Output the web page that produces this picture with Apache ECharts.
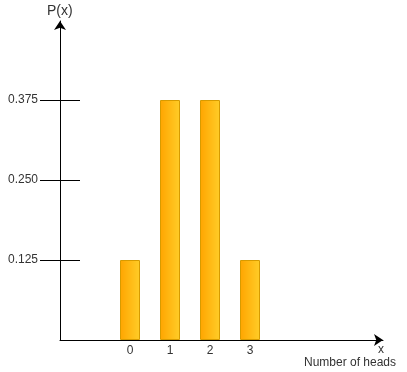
<!DOCTYPE html>
<html><head><meta charset="utf-8">
<script src="https://cdn.jsdelivr.net/npm/echarts@6/dist/echarts.min.js"></script>
<style>html,body{margin:0;padding:0;background:#fff}#c{width:407px;height:372px}</style>
</head><body><div id="c"></div>
<script>
const categories = [0, 1, 2, 3];
const probabilities = [0.125, 0.375, 0.375, 0.125];
const yTickValues = [0.125, 0.25, 0.375];
const xLabel = 'x';
const xTitle = 'Number of heads';
const yTitle = 'P(x)';

const FONT = "'Liberation Sans', Arial, sans-serif";
const chart = echarts.init(document.getElementById('c'), null, {renderer: 'canvas'});
const yMin = 0, yMax = (340 - 21) / 640;
chart.setOption({
  animation: false,
  grid: {left: 60, right: 24, top: 21, bottom: 32},
  xAxis: {
    type: 'value', min: -1.75, max: 6.325,
    axisLine: {show: true, onZero: false, lineStyle: {color: '#000', width: 1}, symbol: ['none', 'arrow'], symbolSize: [9, 9]},
    axisTick: {show: false},
    splitLine: {show: false},
    axisLabel: {customValues: categories, formatter: v => String(v), margin: 5, color: '#333', fontSize: 12, fontFamily: FONT}
  },
  yAxis: [{
    type: 'value', min: yMin, max: yMax,
    axisLine: {show: true, onZero: false, lineStyle: {color: '#000', width: 1}, symbol: ['none', 'arrow'], symbolSize: [9, 9]},
    axisTick: {show: true, customValues: yTickValues, length: 20, lineStyle: {color: '#000', width: 1}},
    splitLine: {show: false},
    axisLabel: {customValues: yTickValues, formatter: v => v.toFixed(3), margin: 22, color: '#333', fontSize: 12, fontFamily: FONT}
  }, {
    type: 'value', min: yMin, max: yMax, position: 'left', offset: 0,
    axisLine: {show: false, onZero: false},
    axisTick: {show: true, inside: true, customValues: yTickValues, length: 20, lineStyle: {color: '#000', width: 1}},
    splitLine: {show: false},
    axisLabel: {show: false}
  }],
  graphic: [
    {type: 'text', left: 47, top: 4, style: {text: yTitle, fontSize: 14, fontFamily: FONT, fill: '#333'}},
    {type: 'text', x: 381, y: 350, style: {text: xLabel, fontSize: 12, fontFamily: FONT, fill: '#333', align: 'center', verticalAlign: 'middle'}},
    {type: 'text', x: 350, y: 363, style: {text: xTitle, fontSize: 12, fontFamily: FONT, fill: '#333', align: 'center', verticalAlign: 'middle'}}
  ],
  series: [{
    type: 'bar',
    yAxisIndex: 0,
    barWidth: 20,
    data: categories.map((c, i) => [c, probabilities[i]]),
    itemStyle: {
      color: new echarts.graphic.LinearGradient(0, 0, 1, 0, [{offset: 0, color: '#ffa500'}, {offset: 1, color: '#ffcd28'}]),
      borderColor: '#d79b00', borderWidth: 1
    }
  }]
});
</script></body></html>
